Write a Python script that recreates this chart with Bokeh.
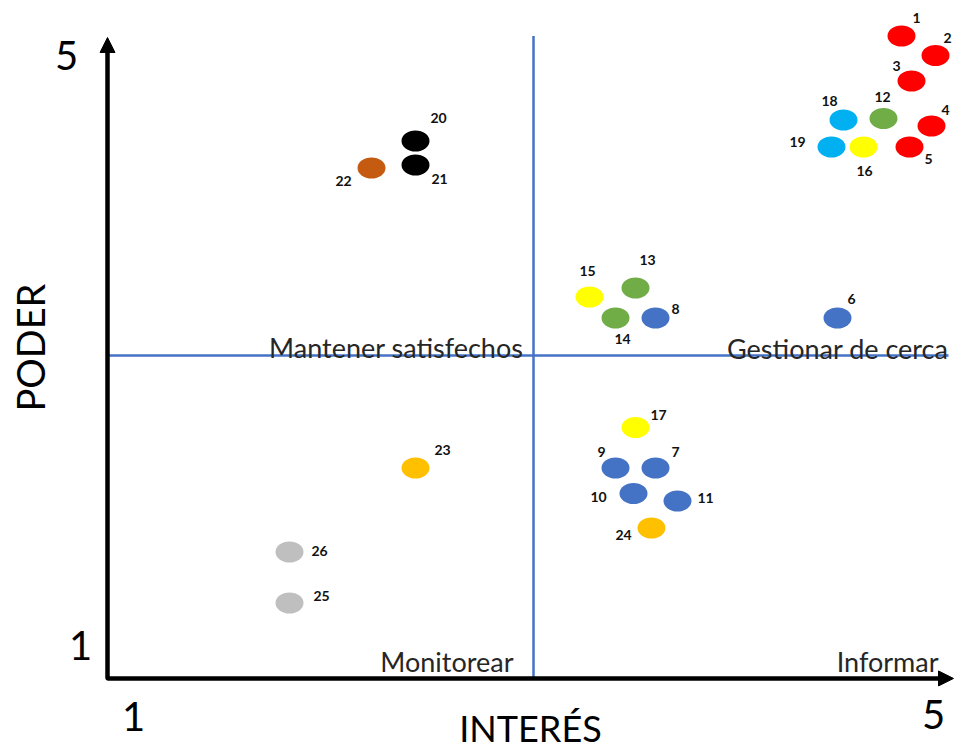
import math
from bokeh.plotting import figure
from bokeh.models import Range1d, ColumnDataSource, Arrow, NormalHead, Label
from bokeh.core.properties import value
from bokeh.embed import file_html
from bokeh.resources import INLINE

# Stakeholder matrix: interest (x) vs. power (y), scale 1..5
ids = [str(i) for i in range(1, 27)]
interes = [4.84, 5.01, 4.89, 4.99, 4.88, 4.52, 3.61, 3.61, 3.41, 3.50, 3.72, 4.75, 3.51,
           3.41, 3.28, 4.65, 3.51, 4.55, 4.49, 2.41, 2.41, 2.19, 2.41, 3.59, 1.78, 1.78]
poder = [5.13, 5.00, 4.83, 4.53, 4.39, 3.25, 2.25, 3.25, 2.25, 2.08, 2.03, 4.58, 3.45,
         3.25, 3.39, 4.39, 2.52, 4.57, 4.39, 4.43, 4.27, 4.25, 2.25, 1.85, 1.35, 1.69]
colores = ["#FF0000", "#FF0000", "#FF0000", "#FF0000", "#FF0000", "#4472C4", "#4472C4",
           "#4472C4", "#4472C4", "#4472C4", "#4472C4", "#70AD47", "#70AD47", "#70AD47",
           "#FFFF00", "#FFFF00", "#FFFF00", "#00B0F0", "#00B0F0", "#000000", "#000000",
           "#C55A11", "#FFC000", "#FFC000", "#BFBFBF", "#BFBFBF"]

quadrant_names = ["Mantener satisfechos", "Gestionar de cerca", "Monitorear", "Informar"]
axis_ticks = ["1", "5"]

# placement of each number label relative to its marker (screen px, +y is up)
label_dx = [15, 12, -15, 14, 19, 14, 20, 20, -14, -35, 28, -1, 12,
            7, -2, 1, 23, -14, -34, 23, 24, -28, 27, -28, 32, 30]
label_dy = [18, 18, 15, 16, -12, 19, 16, 9, 16, -3, 3, 22, 28,
            -21, 26, -24, 13, 19, 5, 23, -14, -13, 18, -7, 7, 1]

FONT = "Lato"
TXT = "#262626"

p = figure(width=955, height=750, output_backend="svg", toolbar_location=None,
           x_range=Range1d(1 - 133 / 200, 1 + 822 / 200),
           y_range=Range1d(5 - 695 / 150, 5 + 55 / 150),
           x_axis_location=None, y_axis_location=None, min_border=0,
           outline_line_color=None, background_fill_color="white")
p.grid.visible = False

x0, y0 = 0.87, 0.847  # origin of the drawn axes

# quadrant dividers
p.line([3, 3], [5.13, y0], line_color="#4472C4", line_width=2.5)
p.line([x0, 5.075], [3, 3], line_color="#4472C4", line_width=2.5)

# axes with arrow heads
p.line([x0, x0, 5.06], [5.08, y0, y0], line_color="black", line_width=4,
       line_join="round")
p.add_layout(Arrow(end=NormalHead(size=15, fill_color="black", line_color="black"),
                   x_start=x0, y_start=y0, x_end=x0, y_end=5.12,
                   line_color="black", line_width=4))
p.add_layout(Arrow(end=NormalHead(size=15, fill_color="black", line_color="black"),
                   x_start=x0, y_start=y0, x_end=5.1, y_end=y0,
                   line_color="black", line_width=4))

src = ColumnDataSource(dict(x=interes, y=poder, c=colores, id=ids,
                            dx=label_dx, dy=[-d for d in label_dy]))
p.ellipse(x="x", y="y", width=28, height=21, width_units="screen",
          height_units="screen", fill_color="c", line_color=None, source=src)
p.text(x="x", y="y", text="id", x_offset="dx", y_offset="dy", source=src,
       text_font=value(FONT), text_font_size="14px", text_color="#111111",
       text_font_style="bold", text_align="center", text_baseline="middle")

# quadrant names
qx = [2.95, 5.075, 2.9, 5.025]
qy = [3.053, 3.047, 0.96, 0.96]
for name, xx, yy in zip(quadrant_names, qx, qy):
    p.add_layout(Label(x=xx, y=yy, text=name, text_font=FONT, text_font_size="27px",
                       text_color=TXT, text_align="right", text_baseline="alphabetic"))

# axis end values
p.add_layout(Label(x=0.665, y=5.0, text=axis_ticks[1], text_font=FONT,
                   text_font_size="40px", text_color="black", text_align="center",
                   text_baseline="middle"))
p.add_layout(Label(x=0.735, y=1.07, text=axis_ticks[0], text_font=FONT,
                   text_font_size="40px", text_color="black", text_align="center",
                   text_baseline="middle"))
p.add_layout(Label(x=1.0, y=0.593, text=axis_ticks[0], text_font=FONT,
                   text_font_size="40px", text_color="black", text_align="center",
                   text_baseline="middle"))
p.add_layout(Label(x=5.0, y=0.607, text=axis_ticks[1], text_font=FONT,
                   text_font_size="40px", text_color="black", text_align="center",
                   text_baseline="middle"))

# axis titles
p.add_layout(Label(x=0.48, y=3.053, text="PODER", text_font=FONT, text_font_size="38px",
                   text_color="black", text_align="center", text_baseline="middle",
                   angle=math.pi / 2))
p.add_layout(Label(x=2.985, y=0.52, text="INTERÉS", text_font=FONT, text_font_size="36px",
                   text_color="black", text_align="center", text_baseline="middle"))

open("out.html", "w").write(file_html(p, INLINE))
